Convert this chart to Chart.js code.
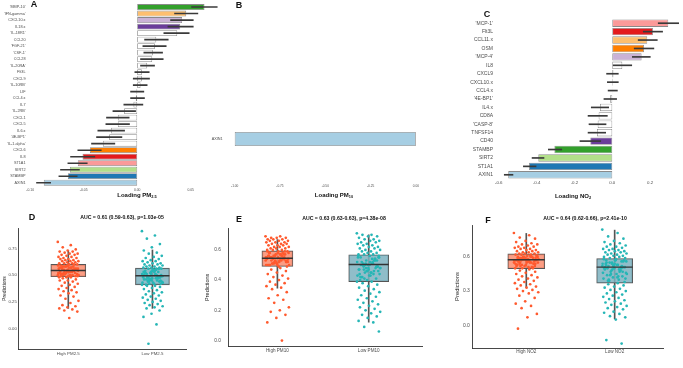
<!DOCTYPE html>
<html>
<head>
<meta charset="utf-8">
<script src="https://cdn.jsdelivr.net/npm/chart.js@4.4.0/dist/chart.umd.min.js"></script>
<style>
    body { margin: 0; width: 683px; height: 368px; position: relative; overflow: hidden; background: #fff; font-family: 'Liberation Sans', Arial, sans-serif; }
    canvas { position: absolute; }
    .txt { position: absolute; transform: translate(-50%, -50%); white-space: nowrap; line-height: 1; font-weight: bold; color: #111; }
    .txt sub { font-size: 65%; vertical-align: -0.3em; line-height: 0; }
</style>
</head>
<body>
<canvas id="chartA" width="228" height="200" style="left:0;top:0"></canvas>
<canvas id="chartB" width="250" height="200" style="left:200px;top:0"></canvas>
<canvas id="chartC" width="233" height="200" style="left:450px;top:0"></canvas>
<canvas id="chartD" width="205" height="163" style="left:0;top:205px"></canvas>
<canvas id="chartE" width="240" height="163" style="left:204px;top:205px"></canvas>
<canvas id="chartF" width="230" height="163" style="left:453px;top:205px"></canvas>

<div class="txt" style="left:34px;top:4px;font-size:9px">A</div>
<div class="txt" style="left:239px;top:5px;font-size:9px">B</div>
<div class="txt" style="left:487px;top:14px;font-size:9px">C</div>
<div class="txt" style="left:32px;top:217px;font-size:9px">D</div>
<div class="txt" style="left:239px;top:219px;font-size:9px">E</div>
<div class="txt" style="left:488px;top:220px;font-size:9px">F</div>

<div class="txt" style="left:137px;top:195px;font-size:6px">Loading PM<sub>2.5</sub></div>
<div class="txt" style="left:334px;top:195px;font-size:6px">Loading PM<sub>10</sub></div>
<div class="txt" style="left:573px;top:196px;font-size:6px">Loading NO<sub>2</sub></div>

<div class="txt" style="left:122px;top:218px;font-size:5.2px">AUC = 0.61 (0.59-0.63), p=1.03e-05</div>
<div class="txt" style="left:344px;top:219px;font-size:5.2px">AUC = 0.63 (0.63-0.63), p=4.38e-08</div>
<div class="txt" style="left:585px;top:219px;font-size:5.2px">AUC = 0.64 (0.62-0.66), p=2.41e-10</div>

<script>
// Panel A - loadings PM2.5
const aLabels = ["'MMP-10'", "'IFN-gamma'", 'CXCL10.x', 'IL18.x', "'IL-18R1'", 'CCL20', "'FGF-21'", "'CSF-1'", 'CCL28', "'IL-20RA'",
    'Flt3L', 'CXCL9', "'IL-10RB'", 'LIF', 'CCL4.x', 'IL7', "'IL-2RB'", 'CXCL1', 'CXCL5', 'IL6.x',
    "'4E-BP1'", "'IL-1.alpha'", 'CXCL6', 'IL8', 'ST1A1', 'SIRT2', 'STAMBP', 'AXIN1'];
const aLoading = [0.0629, 0.0458, 0.0420, 0.0402, 0.0374, 0.0178, 0.0165, 0.0146, 0.0140, 0.0093,
    0.0043, 0.0043, 0.0031, -0.0007, -0.0013, -0.0035, -0.0122, -0.0181, -0.0181, -0.0246,
    -0.0262, -0.0321, -0.0442, -0.0511, -0.0555, -0.0629, -0.0648, -0.0873];
const aLow = [0.0508, 0.0349, 0.0312, 0.0287, 0.0249, 0.0069, 0.0053, 0.0062, 0.0031, 0.0031,
    -0.0022, -0.0037, -0.0037, -0.0062, -0.0062, -0.0125, -0.0227, -0.0287, -0.0293, -0.0368,
    -0.0380, -0.0427, -0.0555, -0.0623, -0.0648, -0.0717, -0.0732, -0.0941];
const aHigh = [0.0748, 0.0567, 0.0524, 0.0524, 0.0486, 0.0290, 0.0271, 0.0237, 0.0243, 0.0162,
    0.0112, 0.0115, 0.0093, 0.0062, 0.0068, 0.0053, -0.0015, -0.0075, -0.0072, -0.0118,
    -0.0143, -0.0209, -0.0336, -0.0396, -0.0467, -0.0540, -0.0561, -0.0809];

// Panel B - loadings PM10
const bLabels = ['AXIN1'];
const bLoading = [-1.0];

// Panel C - loadings NO2
const cLabels = ["'MCP-1'", 'Flt3L', 'CCL11.x', 'OSM', "'MCP-4'", 'IL8', 'CXCL9', 'CXCL10.x', 'CCL4.x', "'4E-BP1'",
    'IL4.x', 'CD8A', "'CASP-8'", 'TNFSF14', 'CD40', 'STAMBP', 'SIRT2', 'ST1A1', 'AXIN1'];
const cLoading = [0.296, 0.215, 0.185, 0.168, 0.155, 0.053, 0.006, 0.003, 0.001, -0.012,
    -0.065, -0.072, -0.077, -0.081, -0.116, -0.306, -0.391, -0.440, -0.550];
const cLow = [0.243, 0.164, 0.137, 0.116, 0.106, 0.005, -0.030, -0.026, -0.022, -0.044,
    -0.111, -0.128, -0.123, -0.128, -0.171, -0.338, -0.424, -0.470, -0.571];
const cHigh = [0.351, 0.266, 0.238, 0.220, 0.201, 0.103, 0.032, 0.032, 0.027, 0.023,
    -0.019, -0.026, -0.033, -0.035, -0.061, -0.267, -0.361, -0.403, -0.525];

// Panel D - predictions PM2.5
const dGroups = ['High PM2.5', 'Low PM2.5'];
const dHigh = [0.81, 0.78, 0.76, 0.74, 0.73, 0.72, 0.72, 0.71, 0.70, 0.70, 0.69, 0.69, 0.68, 0.67, 0.67, 0.66, 0.66, 0.65, 0.65, 0.64,
    0.64, 0.63, 0.63, 0.63, 0.62, 0.62, 0.61, 0.61, 0.61, 0.60,
    0.60, 0.59, 0.60, 0.58, 0.59, 0.57, 0.58, 0.56, 0.59, 0.57, 0.55, 0.58, 0.56, 0.54, 0.57, 0.55, 0.53, 0.56, 0.54, 0.52,
    0.55, 0.53, 0.51, 0.54, 0.52, 0.50, 0.53, 0.51, 0.49, 0.55,
    0.52, 0.50, 0.54, 0.49, 0.53, 0.51, 0.56, 0.48, 0.52, 0.57, 0.50, 0.55, 0.49, 0.53, 0.58, 0.51, 0.54, 0.50, 0.56, 0.52,
    0.59, 0.48, 0.53, 0.55, 0.51, 0.57, 0.49, 0.54, 0.52, 0.50,
    0.48, 0.47, 0.46, 0.45, 0.45, 0.44, 0.43, 0.42, 0.41, 0.40, 0.39, 0.38, 0.37, 0.36, 0.35, 0.34, 0.33, 0.31, 0.30, 0.28,
    0.26, 0.24, 0.22, 0.21, 0.20, 0.19, 0.18, 0.17, 0.16, 0.10];
const dLow = [0.91, 0.87, 0.84, 0.79, 0.76, 0.73, 0.71, 0.70, 0.68, 0.67, 0.66, 0.65, 0.64, 0.63, 0.63, 0.62, 0.61, 0.61, 0.60, 0.60,
    0.59, 0.59, 0.58, 0.58, 0.57, 0.57, 0.57, 0.56, 0.56, 0.56,
    0.55, 0.54, 0.53, 0.52, 0.51, 0.50, 0.49, 0.48, 0.47, 0.46, 0.45, 0.44, 0.43, 0.42, 0.41, 0.56, 0.53, 0.50, 0.47, 0.44,
    0.42, 0.55, 0.52, 0.49, 0.46, 0.43, 0.54, 0.51, 0.48, 0.45,
    0.53, 0.50, 0.47, 0.44, 0.55, 0.52, 0.49, 0.46, 0.43, 0.51, 0.48, 0.45, 0.54, 0.50, 0.47, 0.42, 0.49, 0.53, 0.46, 0.44,
    0.51, 0.48, 0.55, 0.45, 0.50, 0.43, 0.52, 0.47, 0.49, 0.41,
    0.40, 0.40, 0.39, 0.38, 0.37, 0.36, 0.35, 0.34, 0.33, 0.32, 0.31, 0.30, 0.29, 0.28, 0.27, 0.26, 0.25, 0.24, 0.23, 0.22,
    0.21, 0.20, 0.19, 0.17, 0.14, 0.11, 0.04, -0.14];
const dQ1 = [0.485, 0.41];
const dMed = [0.543, 0.495];
const dQ3 = [0.60, 0.566];
const dWhiskLo = [0.19, 0.19];
const dWhiskHi = [0.73, 0.735];

// Panel E - predictions PM10
const eGroups = ['High PM10', 'Low PM10'];
const eHigh = [0.69, 0.69, 0.68, 0.68, 0.68, 0.67, 0.67, 0.67, 0.66, 0.66, 0.66, 0.65, 0.65, 0.65, 0.64, 0.64, 0.64, 0.63, 0.63, 0.63,
    0.62, 0.62, 0.62, 0.61, 0.61, 0.61, 0.60, 0.60, 0.60, 0.59,
    0.59, 0.58, 0.57, 0.56, 0.55, 0.54, 0.53, 0.52, 0.51, 0.50, 0.58, 0.56, 0.54, 0.52, 0.50, 0.59, 0.57, 0.55, 0.53, 0.51,
    0.49, 0.58, 0.56, 0.54, 0.52, 0.50, 0.57, 0.55, 0.53, 0.51,
    0.59, 0.56, 0.54, 0.52, 0.49, 0.58, 0.55, 0.53, 0.50, 0.57, 0.55, 0.52, 0.50, 0.56, 0.54, 0.51, 0.58, 0.53, 0.55, 0.57,
    0.52, 0.54, 0.56, 0.51, 0.53, 0.55, 0.50, 0.54, 0.56, 0.53,
    0.48, 0.47, 0.46, 0.45, 0.44, 0.43, 0.42, 0.41, 0.40, 0.39, 0.38, 0.37, 0.36, 0.35, 0.34, 0.32, 0.30, 0.28, 0.27, 0.25,
    0.22, 0.20, 0.19, 0.17, 0.15, 0.12, 0.00];
const eLow = [0.71, 0.70, 0.70, 0.69, 0.69, 0.68, 0.67, 0.67, 0.66, 0.66, 0.65, 0.65, 0.64, 0.64, 0.63, 0.63, 0.62, 0.62, 0.61, 0.61,
    0.60, 0.60, 0.59, 0.59, 0.58, 0.58, 0.57, 0.57, 0.57, 0.56,
    0.56, 0.55, 0.54, 0.53, 0.52, 0.51, 0.50, 0.49, 0.48, 0.47, 0.46, 0.45, 0.44, 0.43, 0.42, 0.41, 0.40, 0.55, 0.52, 0.49,
    0.46, 0.43, 0.40, 0.54, 0.51, 0.48, 0.45, 0.42, 0.53, 0.50,
    0.47, 0.44, 0.41, 0.55, 0.52, 0.50, 0.48, 0.46, 0.43, 0.54, 0.51, 0.49, 0.47, 0.44, 0.53, 0.50, 0.48, 0.45, 0.52, 0.49,
    0.46, 0.56, 0.51, 0.47, 0.55, 0.50, 0.42, 0.53, 0.48, 0.39,
    0.39, 0.38, 0.37, 0.36, 0.35, 0.34, 0.33, 0.32, 0.31, 0.30, 0.29, 0.28, 0.27, 0.26, 0.25, 0.24, 0.23, 0.22, 0.21, 0.20,
    0.19, 0.18, 0.17, 0.16, 0.15, 0.13, 0.12, 0.09, 0.06];
const eQ1 = [0.491, 0.39];
const eMed = [0.545, 0.503];
const eQ3 = [0.594, 0.568];
const eWhiskLo = [0.346, 0.122];
const eWhiskHi = [0.669, 0.70];

// Panel F - predictions NO2
const fGroups = ['High NO2', 'Low NO2'];
const fHigh = [0.81, 0.79, 0.77, 0.76, 0.74, 0.73, 0.72, 0.71, 0.71, 0.70, 0.69, 0.69, 0.68, 0.68, 0.67, 0.67, 0.66, 0.66, 0.65, 0.65,
    0.64, 0.64, 0.64, 0.63, 0.63, 0.63, 0.62, 0.62, 0.62, 0.61,
    0.61, 0.60, 0.59, 0.58, 0.57, 0.56, 0.55, 0.54, 0.53, 0.52, 0.51, 0.50, 0.60, 0.58, 0.56, 0.54, 0.52, 0.50, 0.61, 0.59,
    0.57, 0.55, 0.53, 0.51, 0.60, 0.58, 0.56, 0.54, 0.52, 0.59,
    0.57, 0.55, 0.53, 0.61, 0.58, 0.56, 0.54, 0.60, 0.57, 0.55, 0.52, 0.59, 0.57, 0.53, 0.60, 0.58, 0.55, 0.51, 0.59, 0.56,
    0.58, 0.54, 0.60, 0.57, 0.61, 0.56, 0.59, 0.50, 0.58, 0.55,
    0.49, 0.48, 0.47, 0.46, 0.45, 0.44, 0.43, 0.42, 0.41, 0.40, 0.39, 0.38, 0.37, 0.36, 0.35, 0.34, 0.33, 0.32, 0.31, 0.30,
    0.29, 0.28, 0.26, 0.24, 0.21, 0.19, 0.17, 0.15, 0.10, 0.07, -0.03];
const fLow = [0.84, 0.81, 0.78, 0.76, 0.74, 0.73, 0.72, 0.71, 0.70, 0.69, 0.69, 0.68, 0.67, 0.67, 0.66, 0.66, 0.65, 0.65, 0.64, 0.64,
    0.63, 0.63, 0.62, 0.62, 0.61, 0.61, 0.60, 0.60, 0.59, 0.59,
    0.58, 0.57, 0.56, 0.55, 0.54, 0.53, 0.52, 0.51, 0.50, 0.49, 0.48, 0.47, 0.46, 0.45, 0.44, 0.43, 0.42, 0.41, 0.40, 0.39,
    0.38, 0.57, 0.54, 0.51, 0.48, 0.45, 0.42, 0.39, 0.56, 0.53,
    0.50, 0.47, 0.44, 0.41, 0.58, 0.55, 0.52, 0.49, 0.46, 0.43, 0.40, 0.57, 0.54, 0.51, 0.48, 0.45, 0.56, 0.53, 0.50, 0.47,
    0.52, 0.58, 0.49, 0.55, 0.51, 0.57, 0.53, 0.50, 0.54, 0.52,
    0.37, 0.36, 0.35, 0.34, 0.33, 0.32, 0.31, 0.30, 0.29, 0.28, 0.27, 0.26, 0.25, 0.24, 0.23, 0.22, 0.21, 0.20, 0.19, 0.18,
    0.17, 0.16, 0.15, 0.14, 0.12, 0.11, 0.10, 0.08, 0.07, 0.05, -0.13, -0.16];
const fQ1 = [0.497, 0.37];
const fMed = [0.575, 0.51];
const fQ3 = [0.626, 0.585];
const fWhiskLo = [0.33, 0.056];
const fWhiskHi = [0.806, 0.835];

// colours (Paired palette)
const lblue = '#a6cee3', dblue = '#1f78b4', lgreen = '#b2df8a', dgreen = '#33a02c', pink = '#fb9a99',
    red = '#e31a1c', lorange = '#fdbf6f', orange = '#ff7f00', lpurple = '#cab2d6', purple = '#6a3d9a';
const aColors = [dgreen, lorange, lpurple, purple].concat(Array(18).fill('#ffffff'), [orange, red, pink, lgreen, dblue, lblue]);
const cColors = [pink, red, lorange, orange, lpurple].concat(Array(9).fill('#ffffff'), [purple, dgreen, lgreen, dblue, lblue]);

const FONT = "'Liberation Sans', Arial, sans-serif";
const tickGrey = '#4d4d4d';

function loadingChart(id, labels, vals, lo, hi, colors, o) {
    const datasets = [];
    if (lo) {
        datasets.push({
            data: lo.map((l, i) => [l, hi[i]]),
            backgroundColor: '#3a3a3a', barThickness: 1, grouped: false, order: 0
        });
    }
    datasets.push({
        data: vals, backgroundColor: colors, borderColor: '#8a8a8a', borderWidth: 0.8, borderSkipped: false,
        categoryPercentage: o.catPct, barPercentage: o.barPct, grouped: false, order: 1
    });
    new Chart(document.getElementById(id), {
        type: 'bar',
        data: { labels: labels, datasets: datasets },
        options: {
            indexAxis: 'y', responsive: false, animation: false, devicePixelRatio: 1,
            layout: { padding: o.padding },
            plugins: { legend: { display: false }, tooltip: { enabled: false } },
            scales: {
                x: {
                    type: 'linear', min: o.min, max: o.max, offset: false,
                    grid: { display: false, drawTicks: false }, border: { display: false },
                    ticks: { stepSize: o.step, includeBounds: false, padding: o.xPad, color: tickGrey,
                        font: { family: FONT, size: o.xFont }, callback: v => v.toFixed(o.dec) },
                    afterFit: s => { s.height = o.xHeight; }
                },
                y: {
                    grid: { display: false, drawTicks: false }, border: { display: false },
                    ticks: { autoSkip: false, padding: o.yPad, color: tickGrey, font: { family: FONT, size: o.yFont } },
                    afterFit: s => { s.width = o.yWidth; }
                }
            }
        }
    });
}

loadingChart('chartA', aLabels, aLoading, aLow, aHigh, aColors, {
    min: -0.103, max: 0.083, step: 0.05, dec: 2, catPct: 0.9, barPct: 1,
    padding: { left: 0, top: 0, right: 2, bottom: 0 }, xHeight: 14, yWidth: 27,
    xPad: 2, yPad: 1.5, xFont: 3.4, yFont: 3.8
});
loadingChart('chartB', bLabels, bLoading, null, null, [lblue], {
    min: -1.05, max: 0.05, step: 0.25, dec: 2, catPct: 1, barPct: 0.5,
    padding: { left: 0, top: 125, right: 1.6, bottom: 0 }, xHeight: 47, yWidth: 25.6,
    xPad: 31, yPad: 3, xFont: 3.2, yFont: 3.8
});
loadingChart('chartC', cLabels, cLoading, cLow, cHigh, cColors, {
    min: -0.62, max: 0.374, step: 0.2, dec: 1, catPct: 0.88, barPct: 1,
    padding: { left: 0, top: 19, right: 0, bottom: 0 }, xHeight: 21, yWidth: 45,
    xPad: 1.5, yPad: 2, xFont: 4.4, yFont: 5
});

// deterministic horizontal spread for jittered points
const jit = (i, w) => (((i * 0.618034) % 1) - 0.5) * 2 * w;

function boxChart(id, groups, highVals, lowVals, q1, med, q3, wLo, wHi, o) {
    const pts = [highVals, lowVals];
    const ptCol = ['#ff5a2e', '#26b6b6'];
    const boxCol = ['rgba(250,140,110,0.85)', 'rgba(125,178,192,0.85)'];
    const datasets = [];
    for (let g = 0; g < 2; g++) {
        datasets.push({
            type: 'bar', data: [{ x: g + 1, y: [wLo[g], wHi[g]] }],
            backgroundColor: '#555', barThickness: 1, grouped: false, order: 5
        });
        datasets.push({
            type: 'bar', data: [{ x: g + 1, y: [q1[g], q3[g]] }],
            backgroundColor: boxCol[g], borderColor: '#555', borderWidth: 0.9, borderSkipped: false,
            barThickness: o.boxW[g], grouped: false, order: 4
        });
        datasets.push({
            type: 'scatter', data: pts[g].map((v, i) => ({ x: g + 1 + jit(i, o.jw), y: v })),
            backgroundColor: ptCol[g], borderWidth: 0, pointRadius: 1.35, order: 3
        });
        datasets.push({
            type: 'scatter', data: [{ x: g + 1, y: med[g] }],
            pointStyle: 'line', pointRadius: o.boxW[g] / 2, borderColor: '#333', borderWidth: 1.4, order: 1
        });
    }
    new Chart(document.getElementById(id), {
        type: 'bar',
        data: { datasets: datasets },
        options: {
            responsive: false, animation: false, devicePixelRatio: 1,
            layout: { padding: o.padding },
            plugins: { legend: { display: false }, tooltip: { enabled: false } },
            scales: {
                x: {
                    type: 'linear', min: o.xMin, max: o.xMax, offset: false,
                    grid: { display: false, drawTicks: false }, border: { color: '#333', width: 0.9 },
                    afterBuildTicks: s => { s.ticks = [{ value: 1 }, { value: 2 }]; },
                    ticks: { padding: o.xPad, color: tickGrey, font: { family: FONT, size: o.xFont },
                        callback: v => groups[v - 1] },
                    afterFit: s => { s.height = o.xHeight; }
                },
                y: {
                    min: o.yMin, max: o.yMax,
                    grid: { display: false, drawTicks: false }, border: { color: '#333', width: 0.9 },
                    ticks: { stepSize: o.step, includeBounds: false, padding: o.yPad, color: tickGrey,
                        font: { family: FONT, size: o.yFont }, callback: v => v.toFixed(o.dec) },
                    title: { display: true, text: 'Predictions', color: '#222', padding: 0,
                        font: { family: FONT, size: o.titleFont } },
                    afterFit: s => { s.width = o.yWidth; }
                }
            }
        }
    });
}

boxChart('chartD', dGroups, dHigh, dLow, dQ1, dMed, dQ3, dWhiskLo, dWhiskHi, {
    xMin: 0.413, xMax: 2.40, yMin: -0.19, yMax: 0.94, step: 0.25, dec: 2,
    boxW: [35, 34], jw: 0.125,
    padding: { left: 0, top: 23, right: 5, bottom: 0 }, xHeight: 9, yWidth: 17,
    xPad: 2.3, yPad: 2, xFont: 4.4, yFont: 4.3, titleFont: 5
});
boxChart('chartE', eGroups, eHigh, eLow, eQ1, eMed, eQ3, eWhiskLo, eWhiskHi, {
    xMin: 0.459, xMax: 2.59, yMin: -0.04, yMax: 0.745, step: 0.2, dec: 1,
    boxW: [31, 40], jw: 0.13,
    padding: { left: 0, top: 23, right: 2, bottom: 0 }, xHeight: 8, yWidth: 24,
    xPad: 1.3, yPad: 7, xFont: 4.6, yFont: 4.8, titleFont: 5.5
});
boxChart('chartF', fGroups, fHigh, fLow, fQ1, fMed, fQ3, fWhiskLo, fWhiskHi, {
    xMin: 0.396, xMax: 2.548, yMin: -0.20, yMax: 0.88, step: 0.3, dec: 1,
    boxW: [37, 36], jw: 0.14,
    padding: { left: 0, top: 20, right: 17, bottom: 0 }, xHeight: 8.7, yWidth: 19.3,
    xPad: 1.3, yPad: 3, xFont: 4.6, yFont: 5, titleFont: 5.8
});
</script>
</body>
</html>
